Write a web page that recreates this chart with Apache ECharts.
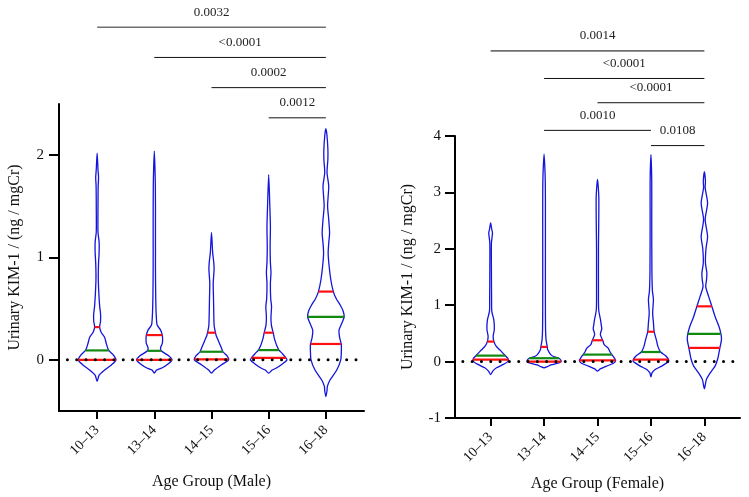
<!DOCTYPE html>
<html>
<head>
<meta charset="utf-8">
<script src="https://cdn.jsdelivr.net/npm/echarts@6/dist/echarts.min.js"></script>
<style>
html,body{margin:0;padding:0;background:#fff;}
#chart{width:749px;height:497px;}
</style>
</head>
<body>
<div id="chart"></div>
<script>
// ---------- DATA ----------
const categories = ['10\u201313', '13\u201314', '14\u201315', '15\u201316', '16\u201318'];

// Violin density profiles: [value, relative density] from bottom tip to top tip
const maleProfiles = [
  [[-0.21,0],[-0.15,3.5],[-0.1,13],[-0.05,25],[0,33],[0.05,28],[0.095,20],[0.16,16],[0.22,13],[0.27,7],[0.32,4.4],[0.38,6],[0.45,6],[0.52,4.5],[0.65,3],[0.8,2],[0.95,2.5],[1.05,3.5],[1.15,3.5],[1.25,1.5],[1.5,1.5],[1.7,1.8],[1.78,2.5],[1.86,1.5],[2.02,0]],
  [[-0.13,0],[-0.1,4],[-0.08,13],[-0.04,24],[0,31],[0.04,25],[0.088,12],[0.12,11],[0.16,14],[0.2,14.5],[0.24,14],[0.29,11],[0.34,5],[0.42,3.5],[0.6,2.5],[0.9,2],[1.3,2],[1.7,1.8],[2.04,0]],
  [[-0.13,0],[-0.1,5],[-0.05,17],[0,30],[0.04,27],[0.079,20],[0.12,17],[0.16,14],[0.2,11],[0.24,8],[0.265,7],[0.33,4.7],[0.45,4],[0.6,3.5],[0.75,3],[0.88,4.5],[0.95,4],[1.05,2],[1.245,0]],
  [[-0.13,0],[-0.1,6],[-0.085,12],[-0.04,24],[0,32],[0.02,30],[0.06,24],[0.095,18],[0.14,14],[0.18,11.5],[0.22,9.5],[0.265,7.9],[0.34,4.7],[0.42,4],[0.52,5],[0.6,3.5],[0.75,3],[0.85,4],[0.95,3],[1.1,2.5],[1.3,3],[1.5,2],[1.81,0]],
  [[-0.36,0],[-0.3,2],[-0.26,2.6],[-0.2,7],[-0.1,19],[0,26],[0.08,27],[0.15,27],[0.22,24],[0.29,23],[0.36,28],[0.42,32],[0.48,30],[0.536,25],[0.6,18],[0.667,13],[0.78,8.7],[0.91,5.8],[1.04,4],[1.14,5],[1.24,6.5],[1.37,5],[1.5,3],[1.6,4],[1.7,5],[1.83,2],[1.96,3.5],[2.06,3.5],[2.2,1.8],[2.26,0]]
];
const femaleProfiles = [
  [[-0.23,0],[-0.17,4],[-0.11,11],[-0.05,24],[0,32],[0.035,33],[0.06,32],[0.106,27.5],[0.16,22],[0.21,17],[0.28,10],[0.355,6.2],[0.45,4.7],[0.57,6.9],[0.74,6],[0.89,2.2],[1.1,1.8],[1.6,1.5],[2.1,1.5],[2.28,3.5],[2.35,2],[2.46,0]],
  [[-0.11,0],[-0.09,6],[-0.06,13],[-0.02,29],[0,32],[0.03,31],[0.06,28],[0.09,18],[0.124,12.5],[0.21,6.9],[0.26,6],[0.39,3.7],[0.57,2.8],[1.0,2.5],[2.0,2.5],[2.9,2.5],[3.3,2],[3.68,0]],
  [[-0.17,0],[-0.13,5],[-0.08,17],[-0.03,30],[0.02,34],[0.07,31],[0.124,27],[0.18,23],[0.24,20],[0.3,12.5],[0.378,9.7],[0.48,5.3],[0.58,8],[0.65,7],[0.745,5.6],[0.92,2.2],[1.3,1.8],[2.0,1.8],[2.9,2.5],[3.23,0]],
  [[-0.27,0],[-0.2,2],[-0.14,7.8],[-0.08,20],[0,33],[0.035,33],[0.1,28],[0.17,18],[0.27,13],[0.39,10],[0.53,6],[0.69,4.7],[0.86,3.2],[1.1,4.7],[1.25,2.8],[1.6,1.8],[2.5,1.5],[3.2,1.5],[3.67,0]],
  [[-0.48,0],[-0.32,3.7],[-0.2,11],[-0.08,20],[0.05,25],[0.243,29],[0.39,32],[0.49,31],[0.63,27],[0.8,20],[0.98,14],[1.16,7.8],[1.33,2.5],[1.45,4],[1.57,4.7],[1.75,2],[2.0,3],[2.22,6],[2.52,1.5],[2.81,6],[3.08,1.5],[3.2,2],[3.37,0]]
];

// Quartiles [Q1, median, Q3]
const maleQuartiles = [[0,0.092,0.32],[0,0.088,0.242],[0.005,0.079,0.265],[0.02,0.095,0.265],[0.155,0.42,0.667]];
const femaleQuartiles = [[0.035,0.106,0.355],[0,0.06,0.26],[0.023,0.124,0.378],[0.035,0.17,0.53],[0.243,0.49,0.98]];

// Significance brackets: [from group, to group, level, p label]
const maleBrackets = [[0,4,3.25,'0.0032'],[1,4,2.955,'<0.0001'],[2,4,2.66,'0.0002'],[3,4,2.365,'0.0012']];
const femaleBrackets = [[0,4,5.51,'0.0014'],[1,4,5.02,'<0.0001'],[2,4,4.59,'<0.0001'],[1,3,4.1,'0.0010'],[3,4,3.83,'0.0108']];

const maleYTicks = [0,1,2];
const xTickValues = [0,1,2,3,4];

// ---------- RENDER ----------
const FONT = '"Liberation Serif", "Times New Roman", serif';
const DENS_SCALE = 0.01;
const BLUE = '#1414dc', RED = '#ff1010', GREEN = '#128a12';

function densAt(prof, v) {
  for (let k = 0; k < prof.length - 1; k++) {
    const a = prof[k], b = prof[k+1];
    if (v >= a[0] && v <= b[0]) {
      const t = (b[0] === a[0]) ? 0 : (v - a[0]) / (b[0] - a[0]);
      return a[1] + t * (b[1] - a[1]);
    }
  }
  return 0;
}

function violinSeries(profiles, quarts, axisIdx) {
  return {
    type: 'custom', xAxisIndex: axisIdx, yAxisIndex: axisIdx, z: 2,
    data: quarts.map((q, i) => [i, q[1]]),
    renderItem: function (params, api) {
      const i = params.dataIndex;
      const prof = profiles[i];
      const right = prof.map(p => api.coord([i + p[1] * DENS_SCALE, p[0]]));
      const left = prof.slice(1, -1).reverse().map(p => api.coord([i - p[1] * DENS_SCALE, p[0]]));
      const children = [{
        type: 'polygon',
        shape: { points: right.concat(left), smooth: 0.25 },
        style: { fill: '#fff', stroke: BLUE, lineWidth: 1.3 }
      }];
      quarts[i].forEach((q, k) => {
        const hw = densAt(prof, q) * DENS_SCALE;
        const a = api.coord([i - hw, q]), b = api.coord([i + hw, q]);
        children.push({
          type: 'line', z2: 5,
          shape: { x1: a[0], y1: a[1], x2: b[0], y2: b[1] },
          style: { stroke: k === 1 ? GREEN : RED, lineWidth: 2.2 }
        });
      });
      return { type: 'group', children };
    }
  };
}

function bracketSeries(brackets, axisIdx) {
  return {
    type: 'custom', xAxisIndex: axisIdx, yAxisIndex: axisIdx, clip: false, z: 3,
    data: brackets.map(b => [b[0], b[2]]),
    renderItem: function (params, api) {
      const b = brackets[params.dataIndex];
      const p1 = api.coord([b[0], b[2]]), p2 = api.coord([b[1], b[2]]);
      const top = params.dataIndex === 0;
      return {
        type: 'group',
        children: [
          { type: 'line', shape: { x1: p1[0], y1: p1[1], x2: p2[0], y2: p2[1] },
            style: { stroke: top ? '#707070' : '#111', lineWidth: top ? 1.6 : 1 } },
          { type: 'text', x: (p1[0] + p2[0]) / 2, y: p1[1] - 15,
            style: { text: b[3], align: 'center', verticalAlign: 'middle', font: '13px ' + FONT, fill: '#222' } }
        ]
      };
    }
  };
}

function zeroLine(axisIdx) {
  return {
    type: 'line', xAxisIndex: axisIdx, yAxisIndex: axisIdx, z: 4,
    data: [[-0.52, 0], [4.667, 0]], symbol: 'none', silent: true,
    lineStyle: { color: '#000', width: 3, type: [0.01, 9.3], cap: 'round' }
  };
}

function xAxis(gridIndex, name, gap) {
  return {
    type: 'value', gridIndex, min: -2/3, max: 4 + 2/3,
    name, nameLocation: 'middle', nameGap: gap,
    nameTextStyle: { fontFamily: FONT, fontSize: 16, color: '#111' },
    axisLine: { show: true, onZero: false, lineStyle: { color: '#000', width: 2 } },
    axisTick: { show: true, customValues: xTickValues, length: 8, lineStyle: { color: '#000', width: 2 } },
    axisLabel: { customValues: xTickValues, rotate: 45, margin: 17, fontFamily: FONT, fontSize: 14, color: '#111',
      formatter: v => categories[Math.round(v)] },
    splitLine: { show: false }
  };
}

const option = {
  animation: false,
  backgroundColor: '#fff',
  grid: [
    { left: 59, right: 385, top: 104, bottom: 86 },
    { left: 455, right: 9, top: 136, bottom: 79 }
  ],
  xAxis: [xAxis(0, 'Age Group (Male)', 63), xAxis(1, 'Age Group (Female)', 58)],
  yAxis: [
    {
      type: 'value', gridIndex: 0, min: -0.5, max: 2.5,
      name: 'Urinary KIM-1 / (ng / mgCr)', nameLocation: 'middle', nameGap: 36,
      nameTextStyle: { fontFamily: FONT, fontSize: 16, color: '#111' },
      axisLine: { show: true, onZero: false, lineStyle: { color: '#000', width: 2 } },
      axisTick: { show: true, customValues: maleYTicks, length: 10, lineStyle: { color: '#000', width: 2 } },
      axisLabel: { customValues: maleYTicks, margin: 15, fontFamily: FONT, fontSize: 15, color: '#111' },
      splitLine: { show: false }
    },
    {
      type: 'value', gridIndex: 1, min: -1, max: 4, interval: 1,
      name: 'Urinary KIM-1 / (ng / mgCr)', nameLocation: 'middle', nameGap: 39,
      nameTextStyle: { fontFamily: FONT, fontSize: 16, color: '#111' },
      axisLine: { show: true, onZero: false, lineStyle: { color: '#000', width: 2 } },
      axisTick: { show: true, length: 10, lineStyle: { color: '#000', width: 2 } },
      axisLabel: { margin: 14, fontFamily: FONT, fontSize: 15, color: '#111' },
      splitLine: { show: false }
    }
  ],
  series: [
    violinSeries(maleProfiles, maleQuartiles, 0),
    violinSeries(femaleProfiles, femaleQuartiles, 1),
    zeroLine(0), zeroLine(1),
    bracketSeries(maleBrackets, 0),
    bracketSeries(femaleBrackets, 1)
  ]
};

const chart = echarts.init(document.getElementById('chart'), null, { renderer: 'canvas' });
chart.setOption(option);
</script>
</body>
</html>
